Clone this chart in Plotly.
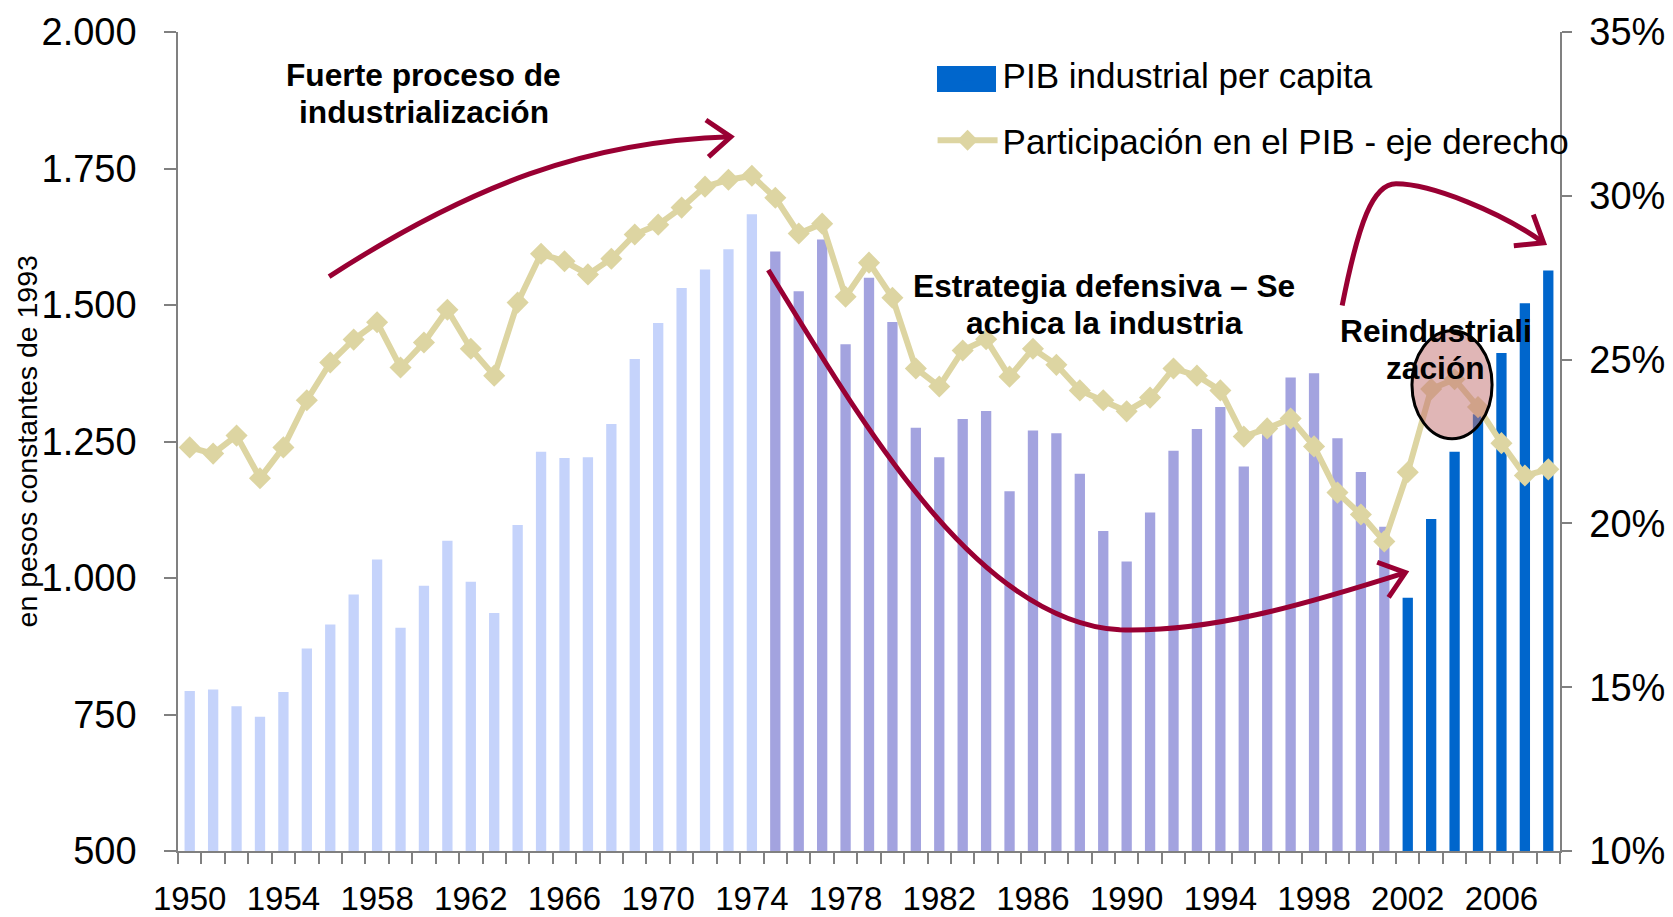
import math
import plotly.graph_objects as go

# ---------------- data ----------------
years = list(range(1950, 2009))
pib_industrial_pc = [
    793, 796, 765, 746, 791, 871, 915, 970, 1034, 909,
    986, 1068, 993, 936, 1097, 1231, 1220, 1221, 1282, 1401,
    1467, 1531, 1565, 1602, 1666, 1598, 1525, 1620, 1428, 1550,
    1469, 1275, 1221, 1291, 1306, 1159, 1270, 1265, 1191, 1086,
    1030, 1120, 1233, 1273, 1313, 1204, 1264, 1367, 1375, 1256,
    1194, 1094, 964, 1108, 1231, 1300, 1412, 1503, 1563,
]
participacion_pib = [
    22.32, 22.13, 22.68, 21.38, 22.32, 23.76, 24.91, 25.61, 26.14, 24.76,
    25.52, 26.52, 25.33, 24.51, 26.74, 28.23, 28.00, 27.60, 28.08, 28.82,
    29.12, 29.64, 30.28, 30.49, 30.61, 29.94, 28.85, 29.15, 26.92, 27.96,
    26.89, 24.73, 24.18, 25.28, 25.62, 24.48, 25.33, 24.84, 24.06, 23.76,
    23.42, 23.84, 24.73, 24.51, 24.06, 22.65, 22.90, 23.20, 22.35, 20.94,
    20.27, 19.45, 21.56, 24.10, 24.40, 23.55, 22.45, 21.46, 21.65,
]
x_tick_years = list(range(1950, 2007, 4))
left_ticks = [500, 750, 1000, 1250, 1500, 1750, 2000]
right_ticks = [10, 15, 20, 25, 30, 35]
right_tick_text = [f"{v}%" for v in right_ticks]
end_industrializacion = 1974
start_reindustrializacion = 2002

# ---------------- styles ----------------
FONT = "Liberation Sans"
C_LIGHT = "#C5D3FB"
C_MID = "#A3A3DF"
C_BLUE = "#0066CC"
C_LINE = "#DDD5A2"
C_ARROW = "#990033"
AX_COL = "#808080"

def subset(cond):
    xs = [y for y in years if cond(y)]
    vs = [v for y, v in zip(years, pib_industrial_pc) if cond(y)]
    return xs, vs

fig = go.Figure()
groups = [
    (lambda y: y <= end_industrializacion, C_LIGHT, False),
    (lambda y: end_industrializacion < y < start_reindustrializacion, C_MID, False),
    (lambda y: y >= start_reindustrializacion, C_BLUE, True),
]
for cond, col, leg in groups:
    xs, vs = subset(cond)
    fig.add_trace(go.Bar(x=xs, y=vs, marker=dict(color=col, line=dict(width=0)),
                         width=0.44, showlegend=leg, name="PIB industrial per capita",
                         legendgroup="a", hoverinfo="x+y"))

fig.add_trace(go.Scatter(
    x=years, y=participacion_pib, yaxis="y2", mode="lines+markers",
    line=dict(color=C_LINE, width=6),
    marker=dict(symbol="diamond", size=17, color=C_LINE),
    name="Participación en el PIB - eje derecho", legendgroup="b"))

# ---------------- annotation arrows ----------------
def arrowhead(xa, ya, ang, L=30, spread=38):
    pts = []
    for s in (-spread, spread):
        a = math.radians(ang + 180 + s)
        pts.append((L * math.cos(a), L * math.sin(a)))
    path = f"M{pts[0][0]:.1f},{pts[0][1]:.1f} L0,0 L{pts[1][0]:.1f},{pts[1][1]:.1f}"
    return dict(type="path", xref="x", yref="y", xsizemode="pixel", ysizemode="pixel",
                xanchor=xa, yanchor=ya, path=path,
                line=dict(color=C_ARROW, width=5), layer="above")

shapes = [
    dict(type="path", xref="x", yref="y", layer="above",
         path="M1955.95,1552 C1962,1720 1967,1800 1973.1,1808",
         line=dict(color=C_ARROW, width=5)),
    arrowhead(1973.1, 1808, 4),
    dict(type="path", xref="x", yref="y", layer="above",
         path=("M1974.7,1564 C1978.5,1300 1983.5,920 1989.7,905 "
               "C1993.5,900 1997.5,950 2001.9,1010"),
         line=dict(color=C_ARROW, width=5)),
    arrowhead(2001.9, 1010, 18),
    dict(type="path", xref="x", yref="y", layer="above",
         path=("M1999.2,1499 C1999.9,1650 2000.5,1722 2001.5,1722 "
               "C2003,1722 2006,1670 2007.8,1614"),
         line=dict(color=C_ARROW, width=5)),
    arrowhead(2007.8, 1614, -32),
    dict(type="circle", xref="x", yref="y", layer="above",
         x0=2002.18, x1=2005.6, y0=1255, y1=1453,
         fillcolor="rgba(195,115,115,0.52)", line=dict(color="black", width=3)),
    # wide legend swatch for the bar series (sits under the legend symbol)
    dict(type="rect", xref="paper", yref="paper", layer="above",
         x0=0.5492, x1=0.5919, y0=0.9268, y1=0.9585,
         fillcolor=C_BLUE, line=dict(width=0)),
]

ann_font = dict(family=FONT, size=31.7, color="black")
text_lines = [
    (1960.0, 1921, "Fuerte proceso de"),
    (1960.0, 1853, "industrialización"),
    (1989.05, 1535, "Estrategia defensiva – Se"),
    (1989.05, 1467, "achica la industria"),
    (2003.2, 1453, "Reindustriali"),
    (2003.2, 1385, "zación"),
]
annotations = [
    dict(x=x, y=y, xref="x", yref="y", showarrow=False, font=ann_font,
         text=f"<b>{t}</b>")
    for x, y, t in text_lines
]
annotations.append(
    dict(x=-0.1093, y=0.5, xref="paper", yref="paper", showarrow=False,
         textangle=-90, xanchor="center", yanchor="middle",
         font=dict(family=FONT, size=28.5, color="black"),
         text="en pesos constantes de 1993"))

fig.update_layout(
    width=1665, height=909,
    margin=dict(l=170, r=113, t=24, b=65.5, autoexpand=False),
    paper_bgcolor="white", plot_bgcolor="white",
    separators=",.",
    barmode="overlay",
    font=dict(family=FONT, color="black"),
    shapes=shapes, annotations=annotations,
    legend=dict(x=0.546, y=0.9835, xanchor="left", yanchor="top",
                font=dict(family=FONT, size=35, color="black"),
                itemwidth=60, traceorder="grouped", tracegroupgap=17,
                bgcolor="rgba(0,0,0,0)"),
    xaxis=dict(range=[1949.5, 2008.5], tickmode="array", tickvals=x_tick_years,
               ticks="", showline=True, linecolor=AX_COL, linewidth=1.5,
               tickfont=dict(family=FONT, size=33, color="black"),
               ticklabelstandoff=18, showgrid=False, zeroline=False,
               minor=dict(tickmode="linear", tick0=1949.5, dtick=1, ticks="outside",
                          ticklen=11, tickcolor=AX_COL, tickwidth=1.5, showgrid=False)),
    yaxis=dict(range=[500, 2000], tickmode="array", tickvals=left_ticks, tickformat=",d",
               ticks="outside", ticklen=12, tickcolor=AX_COL, tickwidth=1.5,
               showline=True, linecolor=AX_COL, linewidth=1.5,
               tickfont=dict(family=FONT, size=38, color="black"),
               ticklabelstandoff=20, showgrid=False, zeroline=False),
    yaxis2=dict(range=[10, 35], overlaying="y", side="right", tickmode="array",
                tickvals=right_ticks, ticktext=right_tick_text,
                ticks="outside", ticklen=10, tickcolor=AX_COL, tickwidth=1.5,
                showline=True, linecolor=AX_COL, linewidth=1.5,
                tickfont=dict(family=FONT, size=38, color="black"),
                ticklabelstandoff=10, showgrid=False, zeroline=False),
)

fig.write_html("out.html")
